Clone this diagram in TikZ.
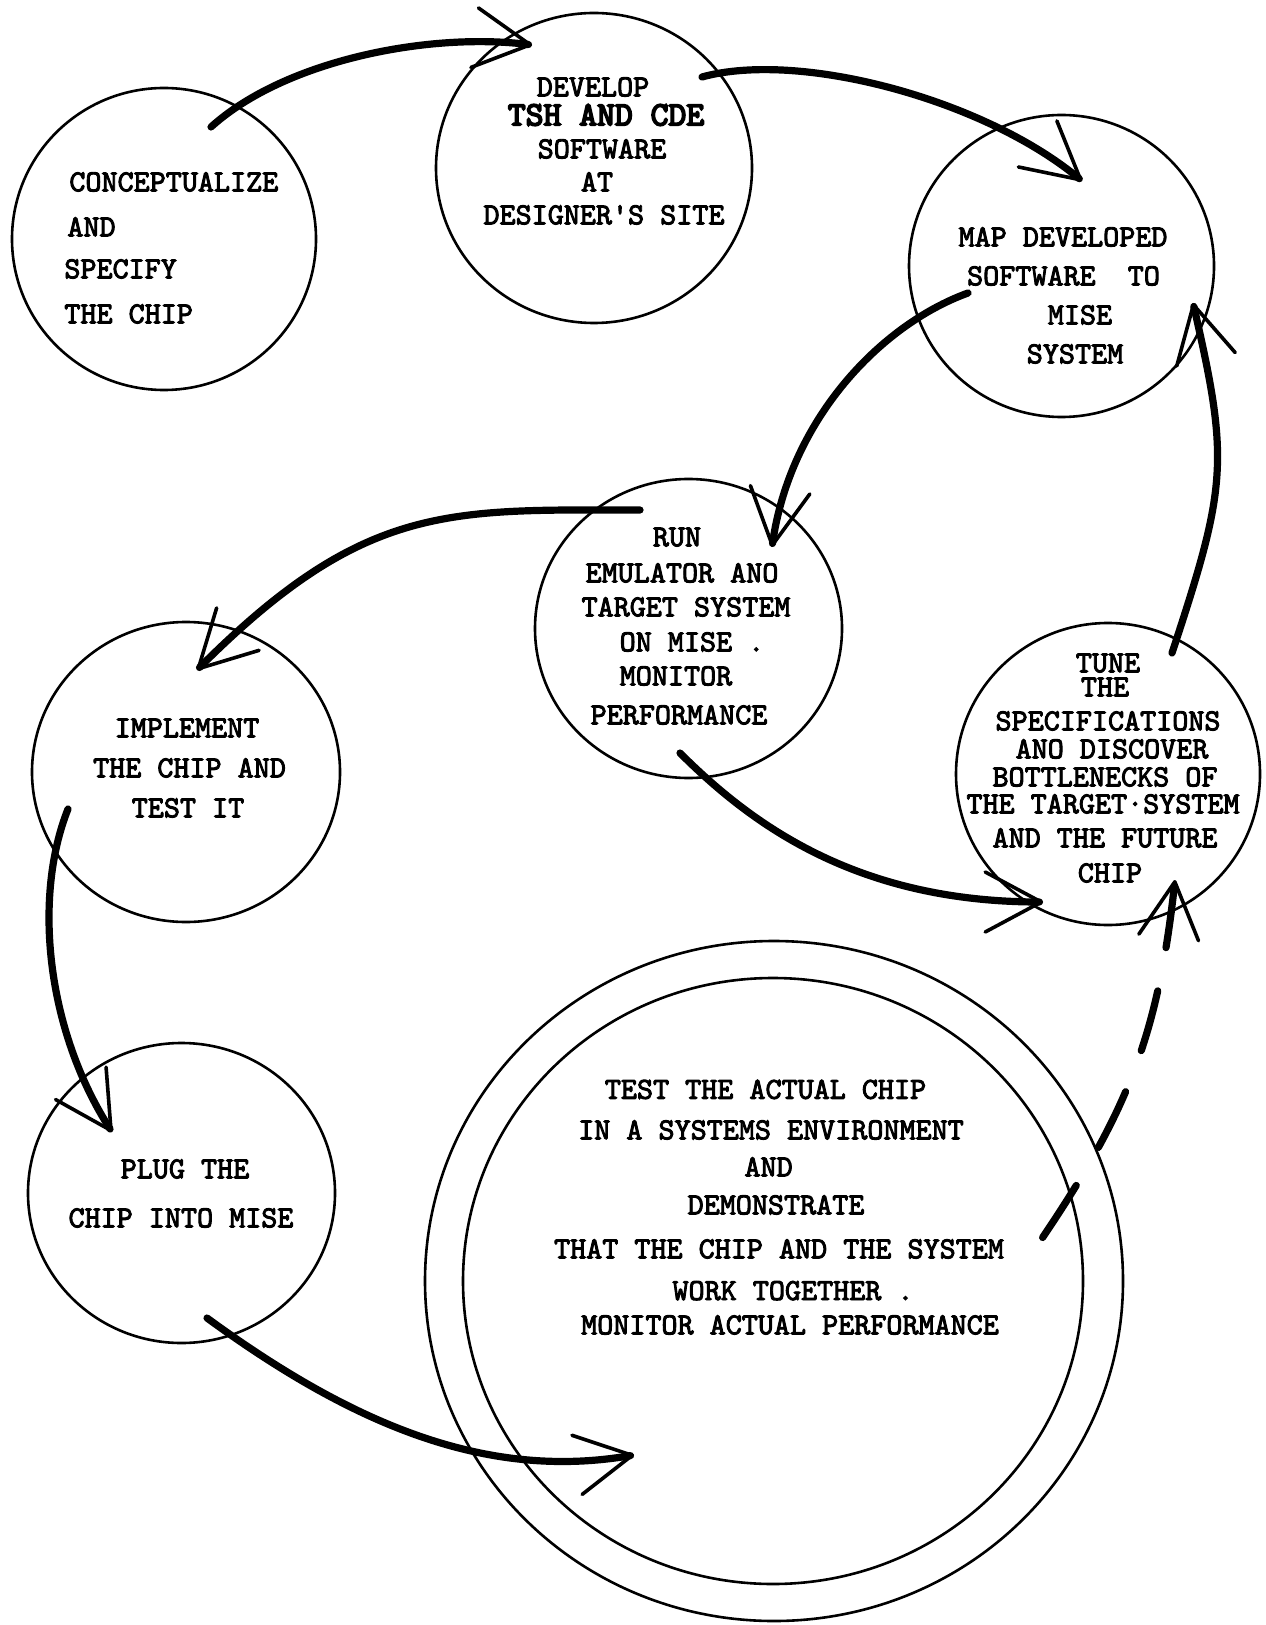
\documentclass[tikz,border=0pt]{standalone}
\usepackage{fontspec}
\newfontfamily\twfont{lmmono10-regular.otf}[FakeBold=3]
\newfontfamily\twbfont{lmmono10-regular.otf}[FakeBold=5]
\usetikzlibrary{arrows.meta,shapes.geometric}
\begin{document}
\begin{tikzpicture}[x=0.5pt,y=-0.5pt]
\tikzset{
  bub/.style={ellipse, draw, line width=1.3pt, inner sep=0pt},
  txt/.style={font=\fontsize{15.3}{18}\selectfont\twfont, inner sep=0pt, anchor=base},
  txtl/.style={txt, anchor=base west},
  bigtxt/.style={font=\fontsize{17}{20}\selectfont\twbfont, inner sep=0pt, anchor=base},
  flow/.style={line width=3.6pt, line cap=round,
    -{Straight Barb[length=28pt,width=30pt,line width=1.8pt,round]}},
  dflow/.style={flow, dash pattern=on 31pt off 22pt}
}
\fill[white] (0,0) rectangle (1265,1625);
\useasboundingbox (0,0) rectangle (1265,1625);

% circles
\node[bub, minimum width=152pt, minimum height=151pt] (A) at (164,239) {};
\node[bub, minimum width=158pt, minimum height=155pt] (B) at (594,168) {};
\node[bub, minimum width=152.5pt, minimum height=151pt] (C) at (1061.5,266) {};
\node[bub, minimum width=153.5pt, minimum height=149.5pt] (D) at (688.5,628.5) {};
\node[bub, minimum width=152pt, minimum height=151pt] (E) at (1108,774) {};
\node[bub, minimum width=154pt, minimum height=150pt] (F) at (186,772) {};
\node[bub, minimum width=153.5pt, minimum height=150pt] (G) at (181.5,1193) {};
\node[bub, minimum width=349pt, minimum height=340pt] (H) at (774,1281) {};
\node[bub, minimum width=310pt, minimum height=303pt] (Hin) at (773,1281) {};

% texts A
\node[txtl] (a1) at (69,191.3) {CONCEPTUALIZE};
\node[txtl] (a2) at (67,236.3) {AND};
\node[txtl] (a3) at (64,278.3) {SPECIFY};
\node[txtl] (a4) at (64,323.3) {THE CHIP};
% texts B
\node[txt] (b1) at (593,96.3) {DEVELOP};
\node[bigtxt] (b2) at (606,125.4) {TSH AND CDE};
\node[txt] (b3) at (602,158.3) {SOFTWARE};
\node[txt] (b4) at (597,191.3) {AT};
\node[txt] (b5) at (604,224.3) {DESIGNER'S SITE};
% texts C
\node[txt] (c1) at (1063,246.3) {MAP DEVELOPED};
\node[txt] (c2) at (1063.5,285.3) {SOFTWARE\ \ TO};
\node[txt] (c3) at (1080,324.3) {MISE};
\node[txt] (c4) at (1075,363.3) {SYSTEM};
% texts D
\node[txt] (d1) at (677,546.3) {RUN};
\node[txt] (d2) at (682,582.3) {EMULATOR ANO};
\node[txt] (d3) at (686,616.3) {TARGET SYSTEM};
\node[txt] (d4) at (692,651.3) {ON MISE .};
\node[txt] (d5) at (676,685.3) {MONITOR};
\node[txt] (d6) at (679,724.3) {PERFORMANCE};
% texts E
\node[txt] (e1) at (1108,672.3) {TUNE};
\node[txt] (e2) at (1105,696.3) {THE};
\node[txt] (e3) at (1108,730.3) {SPECIFICATIONS};
\node[txt] (e4) at (1112,758.3) {ANO DISCOVER};
\node[txt] (e5) at (1105,786.3) {BOTTLENECKS OF};
\node[txt] (e6) at (1103,813.3) {THE TARGET·SYSTEM};
\node[txt] (e7) at (1105,847.3) {AND THE FUTURE};
\node[txt] (e8) at (1110,882.3) {CHIP};
% texts F
\node[txt] (f1) at (187,737.3) {IMPLEMENT};
\node[txt] (f2) at (189.5,777.3) {THE CHIP AND};
\node[txt] (f3) at (188,817.3) {TEST IT};
% texts G
\node[txt] (g1) at (185,1178.3) {PLUG THE};
\node[txt] (g2) at (181,1227.3) {CHIP INTO MISE};
% texts H
\node[txt] (h1) at (765.5,1098.8) {TEST THE ACTUAL CHIP};
\node[txt] (h2) at (771,1139.3) {IN A SYSTEMS ENVIRONMENT};
\node[txt] (h3) at (768.6,1176.3) {AND};
\node[txt] (h4) at (776,1214.3) {DEMONSTRATE};
\node[txt] (h5) at (779,1258.3) {THAT THE CHIP AND THE SYSTEM};
\node[txt] (h6) at (793,1300) {WORK TOGETHER .};
\node[txt] (h7) at (790,1334.3) {MONITOR ACTUAL PERFORMANCE};

% connector end points
\coordinate (s1) at (211,127);   \coordinate (t1) at (532,45);
\coordinate (s2) at (702,77);    \coordinate (t2) at (1082,181);
\coordinate (s3) at (968,293);   \coordinate (t3) at (772,547);
\coordinate (s4) at (640,510);   \coordinate (t4) at (197,670);
\coordinate (s5) at (680,753);   \coordinate (t5) at (1043,902);
\coordinate (s6) at (1172,653);  \coordinate (t6) at (1193,303);
\coordinate (s7) at (68,809);    \coordinate (t7) at (112,1132);
\coordinate (s8) at (207,1318);  \coordinate (t8) at (634,1455);
\coordinate (s9) at (1042.6,1237.5); \coordinate (t9) at (1175,880);

\draw[flow] (s1) .. controls (285,60) and (430,32) .. (t1);
\draw[flow] (s2) .. controls (800,50) and (985,100) .. (t2);
\draw[flow] (s3) .. controls (880,325) and (790,420) .. (t3);
\draw[flow] (s4) .. controls (449,510) and (365,502) .. (t4);
\draw[flow] (s5) .. controls (753.5,826.5) and (859,902) .. (t5);
\draw[flow] (s6) .. controls (1227,486) and (1229.5,461.6) .. (t6);
\draw[flow] (s7) .. controls (33,897) and (46,1029) .. (t7);
\draw[flow] (s8) .. controls (353,1424.6) and (486.4,1480.5) .. (t8);
\draw[dflow] (s9) .. controls (1129.3,1108.9) and (1158.1,1033.3) .. (t9);
\end{tikzpicture}
\end{document}
